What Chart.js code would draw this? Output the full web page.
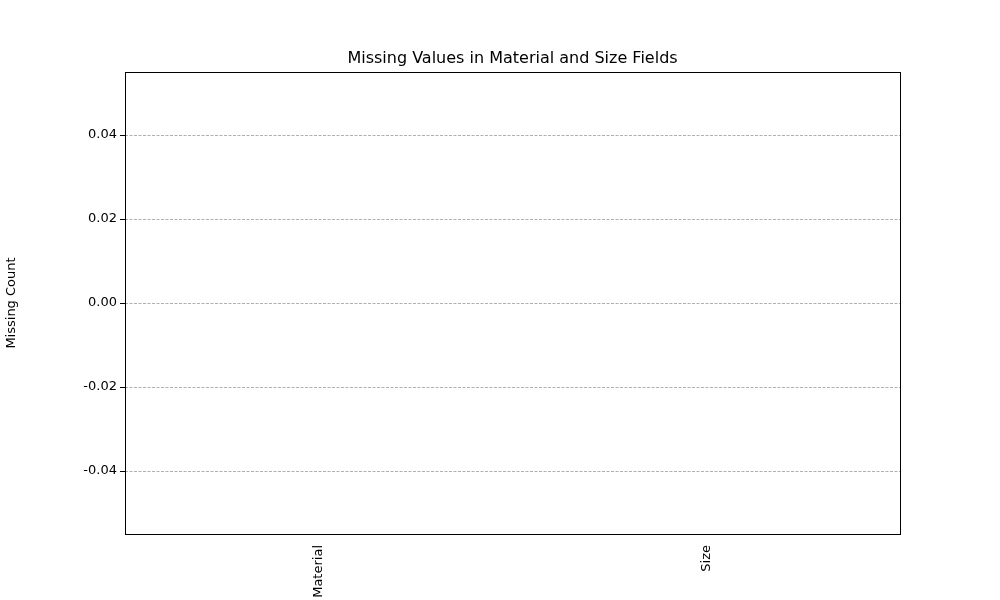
<!DOCTYPE html>
<html>
<head>
<script src="https://cdn.jsdelivr.net/npm/chart.js@4"></script>
<style>body{margin:0;background:#fff}</style>
</head>
<body>
<canvas id="c" width="1000" height="600"></canvas>
<script>
const categories = ['Material', 'Size']
const missingCounts = [0, 0]
const yTicks = [-0.04, -0.02, 0.00, 0.02, 0.04]
const chartTitle = 'Missing Values in Material and Size Fields'

const boxAndTitle = {
    id: 'boxAndTitle',
    afterDraw(chart) {
        const {ctx, chartArea: a} = chart
        ctx.save()
        ctx.strokeStyle = '#000'
        ctx.lineWidth = 1
        ctx.strokeRect(a.left + 0.5, a.top + 0.5, a.right - a.left, a.bottom - a.top)
        ctx.fillStyle = '#000'
        ctx.font = '16px "DejaVu Sans"'
        ctx.textAlign = 'center'
        ctx.textBaseline = 'middle'
        ctx.fillText(chartTitle, (a.left + a.right) / 2, 59)
        ctx.restore()
    }
}

new Chart(document.getElementById('c'), {
    type: 'bar',
    data: {
        labels: categories,
        datasets: [{data: missingCounts, backgroundColor: '#1f77b4', barPercentage: 0.8, categoryPercentage: 1}]
    },
    options: {
        responsive: false,
        animation: false,
        layout: {padding: {top: 72, right: 100, left: 0, bottom: 0}},
        plugins: {legend: {display: false}, title: {display: false}, tooltip: {enabled: false}},
        scales: {
            x: {
                grid: {display: false},
                border: {display: false},
                ticks: {color: '#000', font: {size: 13, family: 'DejaVu Sans'}, minRotation: 90, maxRotation: 90},
                afterFit: s => { s.height = 66 }
            },
            y: {
                min: -0.055,
                max: 0.055,
                afterBuildTicks: s => { s.ticks = yTicks.map(v => ({value: v})) },
                grid: {color: '#b0b0b0', borderDash: [3, 1.5], tickLength: 5, tickColor: '#000'},
                border: {display: false, dash: [3, 1.5]},
                ticks: {color: '#000', font: {size: 13, family: 'DejaVu Sans'}, callback: v => v.toFixed(2)},
                title: {display: true, text: 'Missing Count', color: '#000', font: {size: 13, family: 'DejaVu Sans'}},
                afterFit: s => { s.width = 125 }
            }
        }
    },
    plugins: [boxAndTitle]
})
</script>
</body>
</html>
